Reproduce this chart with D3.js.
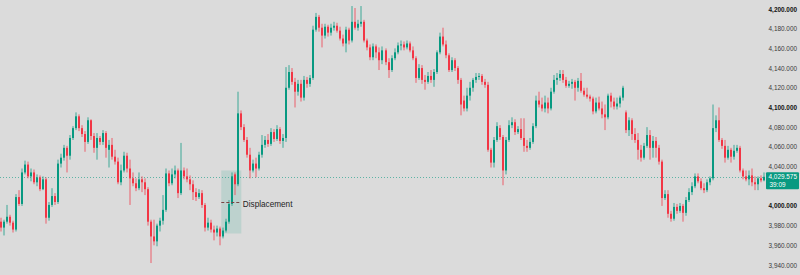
<!DOCTYPE html>
<html>
<head>
<meta charset="utf-8">
<script src="https://cdn.jsdelivr.net/npm/d3@7"></script>
<style>
  html, body { margin: 0; padding: 0; background: #dbdbdb; }
  svg { display: block; }
</style>
</head>
<body>
<svg id="chart" width="800" height="275"></svg>
<script>
// candle values, one per bar
var opens = [
  3984,3978,3984,3989,3983,3976,4009,4002,4034,4042,
  4030,4034,4024,4029,4017,4027,3988,4001,4010,4004,
  4043,4049,4059,4051,4069,4079,4091,4079,4073,4065,
  4087,4071,4059,4069,4065,4074,4057,4062,4050,4045,
  4024,4036,4051,4038,4028,4023,4018,4027,4024,4017,
  3984,3969,3964,3980,3985,3996,4033,4023,4032,4036,
  4013,4036,4030,4027,4022,4014,4009,4013,4001,3978,
  3983,3976,3973,3977,3969,3975,3984,4002,4032,4022,
  4094,4080,4067,4052,4036,4043,4038,4052,4062,4067,
  4063,4075,4068,4078,4066,4069,4120,4136,4126,4116,
  4124,4110,4128,4124,4130,4179,4192,4181,4173,4182,
  4176,4181,4183,4178,4170,4165,4179,4168,4187,4181,
  4185,4187,4168,4161,4151,4162,4156,4148,4158,4146,
  4138,4150,4156,4163,4164,4161,4165,4158,4150,4130,
  4140,4128,4126,4132,4128,4136,4156,4172,4164,4153,
  4138,4148,4140,4128,4107,4099,4112,4120,4128,4131,
  4132,4126,4123,4057,4044,4067,4079,4070,4036,4067,
  4082,4085,4075,4078,4069,4061,4059,4065,4081,4107,
  4103,4099,4105,4099,4116,4128,4130,4134,4128,4122,
  4124,4126,4120,4127,4117,4113,4111,4109,4096,4105,
  4099,4093,4090,4112,4106,4101,4104,4110,4095,4077,
  4087,4073,4067,4057,4049,4061,4072,4059,4066,4059,
  4045,4008,4012,3992,3987,3999,3995,4000,3993,4006,
  4014,4020,4030,4025,4018,4016,4024,4028,4079,4087,
  4067,4061,4049,4057,4050,4056,4059,4036,4030,4027,
  4031,4024,4022,4028,4026
];
var highs = [
  3988,3986,4001,3991,3985,4012,4016,4038,4046,4045,
  4038,4037,4032,4031,4030,4029,4004,4018,4013,4047,
  4053,4062,4061,4072,4081,4095,4093,4082,4076,4090,
  4088,4074,4074,4071,4077,4076,4067,4069,4057,4049,
  4042,4055,4054,4047,4034,4028,4034,4030,4028,4019,
  3986,3986,3982,3988,4011,4038,4036,4038,4041,4038,
  4064,4039,4038,4031,4026,4018,4017,4016,4003,3988,
  3986,3980,3980,3979,3978,3987,4006,4034,4034,4116,
  4097,4083,4070,4059,4047,4049,4055,4072,4071,4073,
  4079,4078,4082,4080,4073,4141,4143,4140,4130,4128,
  4128,4132,4131,4133,4183,4196,4194,4185,4185,4184,
  4185,4187,4186,4182,4174,4182,4181,4203,4201,4189,
  4203,4189,4170,4164,4165,4164,4161,4162,4160,4150,
  4153,4160,4166,4168,4167,4168,4167,4162,4152,4144,
  4143,4133,4136,4138,4139,4158,4176,4181,4168,4155,
  4151,4150,4142,4130,4112,4120,4126,4130,4135,4135,
  4134,4129,4126,4059,4070,4085,4082,4072,4070,4087,
  4090,4088,4081,4089,4089,4067,4069,4084,4112,4116,
  4110,4112,4110,4120,4133,4135,4138,4138,4131,4127,
  4129,4128,4130,4135,4120,4120,4113,4111,4110,4111,
  4106,4103,4114,4115,4110,4110,4112,4122,4097,4090,
  4089,4079,4074,4062,4064,4080,4077,4071,4070,4062,
  4047,4016,4016,3995,4003,4002,4003,4002,4009,4018,
  4024,4033,4033,4028,4023,4027,4030,4103,4092,4100,
  4069,4067,4061,4059,4062,4062,4061,4038,4036,4036,
  4038,4030,4030,4031,4034
];
var lows = [
  3974,3970,3982,3980,3973,3974,4000,4000,4032,4028,
  4025,4022,4020,4015,4016,3982,3985,3999,4001,4002,
  4039,4046,4034,4047,4067,4077,4076,4070,4055,4063,
  4067,4054,4047,4062,4062,4049,4039,4047,4042,4022,
  4021,4034,4034,4001,4020,4015,4016,4014,4011,3980,
  3942,3960,3959,3974,3981,3994,4020,4021,4028,4008,
  4011,4027,4024,4016,4006,4005,4007,3998,3974,3975,
  3973,3965,3969,3960,3967,3973,3982,4000,4011,4020,
  4077,4065,4049,4028,4034,4029,4036,4049,4059,4060,
  4061,4065,4066,4063,4059,4065,4118,4123,4100,4112,
  4106,4107,4120,4121,4128,4177,4177,4161,4170,4172,
  4173,4178,4176,4168,4162,4156,4164,4166,4179,4178,
  4182,4166,4158,4148,4148,4150,4138,4144,4143,4130,
  4136,4148,4154,4158,4158,4159,4156,4148,4125,4128,
  4124,4118,4124,4125,4121,4134,4154,4162,4150,4136,
  4136,4137,4124,4092,4096,4096,4107,4116,4125,4128,
  4123,4120,4055,4039,4039,4065,4067,4021,4032,4065,
  4079,4072,4073,4067,4055,4055,4057,4063,4079,4100,
  4096,4095,4094,4097,4114,4123,4127,4125,4120,4120,
  4119,4107,4116,4115,4111,4109,4106,4093,4094,4097,
  4089,4077,4088,4100,4098,4098,4100,4107,4074,4071,
  4067,4064,4047,4045,4047,4059,4047,4049,4049,4042,
  4000,4006,3988,3984,3985,3992,3993,3984,3990,4004,
  4011,4018,4023,4016,4013,4014,4021,4026,4075,4065,
  4058,4044,4047,4044,4047,4054,4034,4027,4025,4021,
  4020,4016,4016,4024,4025
];
var closes = [
  3978,3984,3989,3983,3976,4009,4002,4034,4042,4030,
  4034,4024,4029,4017,4027,3988,4001,4010,4004,4043,
  4049,4059,4051,4069,4079,4091,4079,4073,4065,4087,
  4071,4059,4069,4065,4074,4059,4062,4050,4045,4024,
  4036,4051,4038,4028,4023,4018,4027,4024,4017,3984,
  3969,3964,3980,3985,3996,4033,4023,4032,4036,4013,
  4036,4030,4027,4022,4014,4009,4013,4001,3978,3983,
  3976,3973,3977,3969,3975,3984,4002,4030,4022,4094,
  4080,4067,4052,4036,4043,4038,4052,4062,4067,4063,
  4075,4068,4078,4066,4069,4120,4136,4126,4116,4124,
  4110,4128,4124,4130,4179,4192,4181,4173,4182,4176,
  4181,4183,4178,4170,4165,4179,4168,4187,4181,4185,
  4187,4168,4161,4151,4162,4156,4148,4158,4146,4138,
  4150,4156,4163,4164,4161,4165,4158,4150,4130,4140,
  4128,4126,4132,4128,4136,4156,4172,4164,4153,4138,
  4148,4140,4128,4103,4099,4112,4120,4128,4131,4132,
  4126,4123,4057,4044,4067,4081,4070,4036,4067,4082,
  4085,4075,4078,4069,4061,4059,4065,4081,4107,4103,
  4099,4105,4099,4116,4128,4130,4134,4128,4122,4124,
  4126,4120,4127,4117,4113,4111,4109,4096,4105,4099,
  4093,4090,4112,4106,4101,4104,4110,4120,4077,4087,
  4073,4067,4057,4049,4061,4072,4059,4066,4059,4045,
  4008,4012,3992,3987,3999,3995,4000,3993,4006,4014,
  4020,4030,4025,4018,4016,4024,4028,4079,4087,4067,
  4061,4049,4057,4050,4056,4059,4036,4030,4027,4031,
  4024,4022,4028,4026,4029.575
];

var priceTicks = d3.range(3940, 4201, 20);
var lastPrice = 4029.575;
var countdown = "39:09";

// the marked zone: first/last bar, price bottom/top
var zoneBars = [73, 79];
var zonePrices = [3972, 4036];
var zoneLabel = "Displacement";

var width = 800, height = 275, plotRight = 765;
var upColor = "#089981", downColor = "#f23645";
var font = "Liberation Sans, Arial, sans-serif";

var svg = d3.select("#chart");

svg.append("rect")
  .attr("width", width)
  .attr("height", height)
  .attr("fill", "#dbdbdb");

var x = d3.scaleBand()
  .domain(d3.range(closes.length))
  .range([0, plotRight])
  .paddingInner(1 / 3)
  .paddingOuter(0);

var y = d3.scaleLinear()
  .domain([3940, 4200])
  .range([265, 9]);

var bars = d3.range(closes.length).map(function(i) {
  return { i: i, o: opens[i], h: highs[i], l: lows[i], c: closes[i] };
});

// zone box behind the candles
var zx0 = x(zoneBars[0]) + x.bandwidth();
var zx1 = x(zoneBars[1] + 1) + x.bandwidth() / 2;
svg.append("rect")
  .attr("x", zx0)
  .attr("y", y(zonePrices[1]))
  .attr("width", zx1 - zx0)
  .attr("height", y(zonePrices[0]) - y(zonePrices[1]))
  .attr("fill", upColor)
  .attr("fill-opacity", 0.14);

// last price line
svg.append("line")
  .attr("x1", 0).attr("x2", plotRight)
  .attr("y1", Math.round(y(lastPrice)) + 0.5)
  .attr("y2", Math.round(y(lastPrice)) + 0.5)
  .attr("stroke", upColor)
  .attr("stroke-opacity", 0.6)
  .attr("stroke-dasharray", "1,2");

var candles = svg.append("g").selectAll("g")
  .data(bars)
  .enter()
  .append("g");

candles.append("line")
  .attr("x1", function(d) { return Math.round(x(d.i)) + 1; })
  .attr("x2", function(d) { return Math.round(x(d.i)) + 1; })
  .attr("y1", function(d) { return y(d.h); })
  .attr("y2", function(d) { return y(d.l); })
  .attr("stroke", function(d) { return d.c >= d.o ? upColor : downColor; })
  .attr("stroke-opacity", 0.75)
  .attr("stroke-width", 1);

candles.append("rect")
  .attr("x", function(d) { return Math.round(x(d.i)); })
  .attr("width", 2)
  .attr("y", function(d) { return y(Math.max(d.o, d.c)); })
  .attr("height", function(d) { return Math.max(1, Math.abs(y(d.o) - y(d.c))); })
  .attr("fill", function(d) { return d.c >= d.o ? upColor : downColor; });

// zone midline + label
var zmid = y((zonePrices[0] + zonePrices[1]) / 2);
svg.append("line")
  .attr("x1", zx0).attr("x2", zx1)
  .attr("y1", Math.round(zmid) + 0.5).attr("y2", Math.round(zmid) + 0.5)
  .attr("stroke", "#7a4343")
  .attr("stroke-dasharray", "3,2");

svg.append("text")
  .attr("x", zx1 + 1.5)
  .attr("y", zmid + 5.5)
  .attr("font-family", font)
  .attr("font-size", "8.2px")
  .attr("fill", "#1e1e1e")
  .text(zoneLabel);

// price axis
var ly = y(lastPrice);
var tagTop = ly - 4.5, tagBottom = ly + 12.5;

var axis = svg.append("g")
  .attr("transform", "translate(797,0)")
  .call(d3.axisLeft(y)
    .tickValues(priceTicks)
    .tickFormat(d3.format(",.3f"))
    .tickSize(0)
    .tickPadding(0));

axis.select(".domain").remove();
axis.selectAll(".tick")
  .style("display", function(d) {
    var ty = y(d);
    return (ty > tagTop - 3 && ty < tagBottom + 3) ? "none" : null;
  });
axis.selectAll("text")
  .attr("font-family", font)
  .attr("font-size", "6.4px")
  .attr("fill", function(d) { return d % 100 === 0 ? "#111" : "#3a3a3a"; })
  .attr("font-weight", function(d) { return d % 100 === 0 ? "bold" : "normal"; });

// last price tag
svg.append("rect")
  .attr("x", 766)
  .attr("y", tagTop)
  .attr("width", 33)
  .attr("height", tagBottom - tagTop)
  .attr("rx", 1)
  .attr("fill", upColor);

svg.append("text")
  .attr("x", 768.5)
  .attr("y", ly + 2.5)
  .attr("font-family", font)
  .attr("font-size", "6.4px")
  .attr("fill", "#fff")
  .text(d3.format(",.3f")(lastPrice));

svg.append("text")
  .attr("x", 769.5)
  .attr("y", ly + 10.5)
  .attr("font-family", font)
  .attr("font-size", "6.4px")
  .attr("fill", "#fff")
  .text(countdown);
</script>
</body>
</html>
